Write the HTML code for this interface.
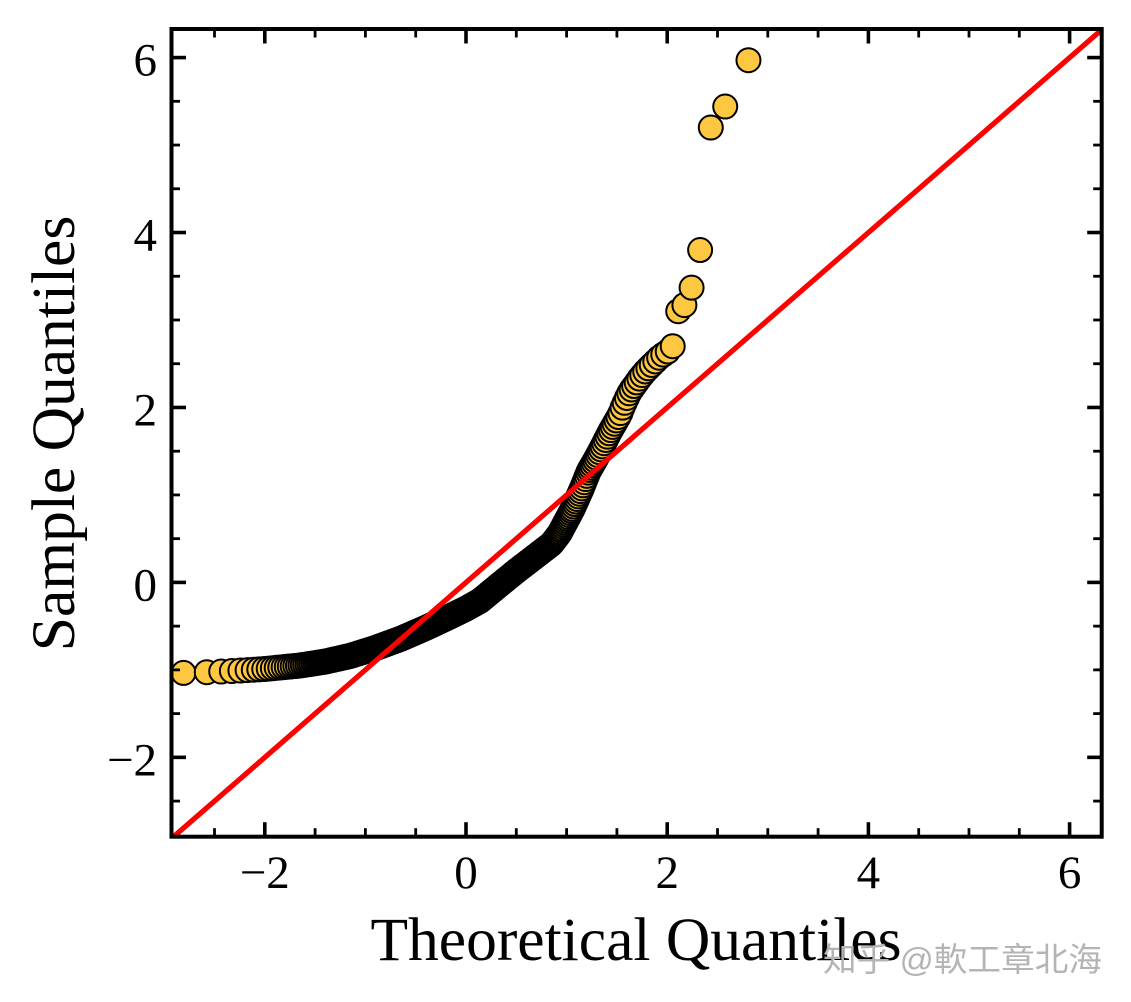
<!DOCTYPE html>
<html>
<head>
<meta charset="utf-8">
<style>
  html, body { margin: 0; padding: 0; background: #ffffff; }
  svg { display: block; }
  .tk { font-family: "Liberation Serif", "Times New Roman", serif; font-size: 47px; fill: #000; }
  .lab { font-family: "Liberation Serif", "Times New Roman", serif; font-size: 61.5px; fill: #000; }
  .wm { font-family: "Liberation Sans", "Noto Sans CJK SC", sans-serif; font-size: 33px; fill: #b4b4b4; }
</style>
</head>
<body>
<svg id="chart" xmlns="http://www.w3.org/2000/svg" width="1131" height="1002" viewBox="0 0 1131 1002">
  <rect x="0" y="0" width="1131" height="1002" fill="#ffffff"/>
  <defs>
    <clipPath id="axclip">
      <rect x="171.5" y="29" width="930.2" height="807.7"/>
    </clipPath>
  </defs>
  <g id="pts"></g>
  <g clip-path="url(#axclip)">
    <line x1="171.5" y1="838.5" x2="1101.7" y2="29.7" stroke="#ff0000" stroke-width="5.2"/>
  </g>
  <g id="ticks" stroke="#000" fill="none"></g>
  <rect x="171.5" y="29" width="930.2" height="807.7" fill="none" stroke="#000" stroke-width="4"/>

  <!-- y tick labels -->
  <text class="tk" text-anchor="end" x="157" y="75.5">6</text>
  <text class="tk" text-anchor="end" x="157" y="250.5">4</text>
  <text class="tk" text-anchor="end" x="157" y="425.5">2</text>
  <text class="tk" text-anchor="end" x="157" y="600.4">0</text>
  <text class="tk" text-anchor="end" x="157" y="775.3">−2</text>

  <!-- x tick labels -->
  <text class="tk" text-anchor="middle" x="264.8" y="888">−2</text>
  <text class="tk" text-anchor="middle" x="466" y="888">0</text>
  <text class="tk" text-anchor="middle" x="667.2" y="888">2</text>
  <text class="tk" text-anchor="middle" x="868.4" y="888">4</text>
  <text class="tk" text-anchor="middle" x="1069.6" y="888">6</text>

  <!-- axis labels -->
  <text class="lab" text-anchor="middle" x="636" y="960">Theoretical Quantiles</text>
  <text class="lab" text-anchor="middle" transform="translate(74,433.5) rotate(-90)">Sample Quantiles</text>

  <!-- watermark -->
  <text class="wm" x="823" y="971" textLength="279" lengthAdjust="spacingAndGlyphs">知乎 @軟工章北海</text>
</svg>
<script>
(function(){
  var NS = "http://www.w3.org/2000/svg";
  function px(x){ return 466 + 100.6*x; }
  function py(y){ return 582.4 - 87.47*y; }

  // ticks
  var tg = document.getElementById("ticks");
  function line(x1,y1,x2,y2,w){
    var l = document.createElementNS(NS,"line");
    l.setAttribute("x1",x1); l.setAttribute("y1",y1);
    l.setAttribute("x2",x2); l.setAttribute("y2",y2);
    l.setAttribute("stroke-width",w);
    tg.appendChild(l);
  }
  var L=171.5, R=1101.7, T=29, B=836.7;
  for (var k=-6; k<=13; k++){
    var v = k*0.5;
    var major = (Math.abs(v % 2) < 1e-9);
    var len = major ? 14.5 : 8.5, w = major ? 3.6 : 2.8;
    var X = px(v);
    if (X > L+2 && X < R-2){
      line(X, B, X, B-len, w);
      line(X, T, X, T+len, w);
    }
    var Y = py(v);
    if (Y > T+2 && Y < B-2){
      line(L, Y, L+len, Y, w);
      line(R, Y, R-len, Y, w);
    }
  }

  // inverse normal CDF (Acklam)
  var a=[-3.969683028665376e+01,2.209460984245205e+02,-2.759285104469687e+02,1.383577518672690e+02,-3.066479806614716e+01,2.506628277459239e+00];
  var b=[-5.447609879822406e+01,1.615858368580409e+02,-1.556989798598866e+02,6.680131188771972e+01,-1.328068155288572e+01];
  var c=[-7.784894002430293e-03,-3.223964580411365e-01,-2.400758277161838e+00,-2.549732539343734e+00,4.374664141464968e+00,2.938163982698783e+00];
  var d=[7.784695709041462e-03,3.224671290700398e-01,2.445134137142996e+00,3.754408661907416e+00];
  function ninv(p){
    var plow=0.02425, phigh=1-plow, q, r;
    if (p < plow){
      q = Math.sqrt(-2*Math.log(p));
      return (((((c[0]*q+c[1])*q+c[2])*q+c[3])*q+c[4])*q+c[5])/((((d[0]*q+d[1])*q+d[2])*q+d[3])*q+1);
    } else if (p <= phigh){
      q = p-0.5; r = q*q;
      return (((((a[0]*r+a[1])*r+a[2])*r+a[3])*r+a[4])*r+a[5])*q/(((((b[0]*r+b[1])*r+b[2])*r+b[3])*r+b[4])*r+1);
    } else {
      q = Math.sqrt(-2*Math.log(1-p));
      return -(((((c[0]*q+c[1])*q+c[2])*q+c[3])*q+c[4])*q+c[5])/((((d[0]*q+d[1])*q+d[2])*q+d[3])*q+1);
    }
  }

  var anc = [
    [-2.81,-1.035],[-2.6,-1.028],[-2.3,-1.012],[-2.0,-0.99],[-1.65,-0.95],[-1.4,-0.905],
    [-1.15,-0.84],[-0.9,-0.75],[-0.65,-0.645],[-0.4,-0.52],[-0.16,-0.39],[0.0,-0.30],
    [0.14,-0.21],[0.34,-0.02],[0.5,0.13],[0.67,0.28],[0.85,0.44],[0.93,0.56],[1.06,0.84],
    [1.15,1.07],[1.22,1.27],[1.30,1.43],[1.36,1.56],[1.43,1.72],[1.48,1.82],[1.53,1.92],
    [1.56,2.01],[1.60,2.11],[1.63,2.18],[1.68,2.26],[1.73,2.34],[1.78,2.41],[1.85,2.49],
    [1.93,2.58],[2.006,2.64],[2.054,2.70]
  ];
  function interp(x){
    if (x <= anc[0][0]) return anc[0][1];
    for (var j=1;j<anc.length;j++){
      if (x <= anc[j][0]){
        var t=(x-anc[j-1][0])/(anc[j][0]-anc[j-1][0]);
        return anc[j-1][1] + t*(anc[j][1]-anc[j-1][1]);
      }
    }
    return anc[anc.length-1][1];
  }
  var tail = {394:3.10, 395:3.17, 396:3.37, 397:3.80, 398:5.20, 399:5.44, 400:5.97};

  var g = document.getElementById("pts");
  var n = 400;
  for (var i=1;i<=n;i++){
    var x = ninv(i/(n+1));
    var y = (tail[i] !== undefined) ? tail[i] : interp(x);
    var ci = document.createElementNS(NS,"circle");
    ci.setAttribute("cx", px(x).toFixed(2));
    ci.setAttribute("cy", py(y).toFixed(2));
    ci.setAttribute("r", "12");
    ci.setAttribute("fill", "#fdc742");
    ci.setAttribute("stroke", "#000");
    ci.setAttribute("stroke-width", "2");
    g.appendChild(ci);
  }
})();
</script>
</body>
</html>
